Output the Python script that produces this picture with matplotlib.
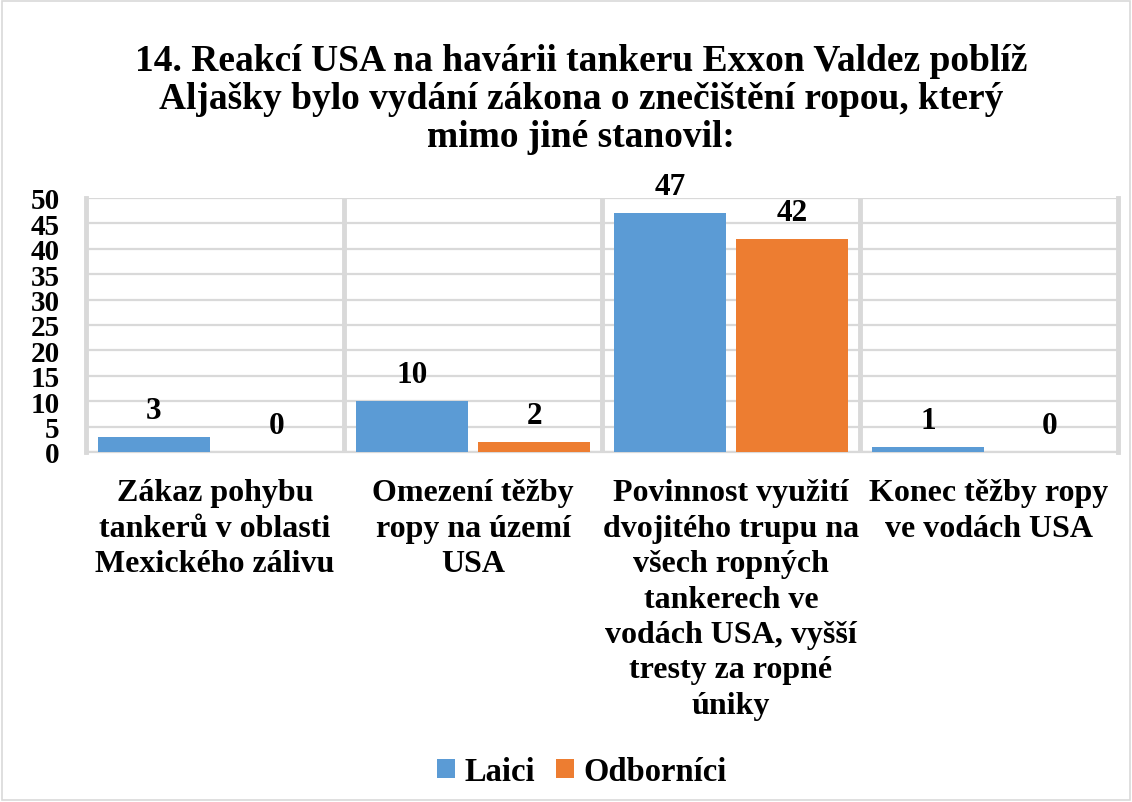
import numpy as np
import matplotlib.pyplot as plt
from matplotlib.patches import Rectangle

plt.rcParams['font.family'] = ['Liberation Serif', 'DejaVu Serif']
plt.rcParams['font.weight'] = 'bold'

categories = [
    "Zákaz pohybu\ntankerů v oblasti\nMexického zálivu",
    "Omezení těžby\nropy na území\nUSA",
    "Povinnost využití\ndvojitého trupu na\nvšech ropných\ntankerech ve\nvodách USA, vyšší\ntresty za ropné\núniky",
    "Konec těžby ropy\nve vodách USA",
]
laici = [3, 10, 47, 1]
odbornici = [0, 2, 42, 0]
series_names = ["Laici", "Odborníci"]
colors = ["#5b9bd5", "#ed7d31"]
title = ("14. Reakcí USA na havárii tankeru Exxon Valdez poblíž\n"
         "Aljašky bylo vydání zákona o znečištění ropou, který\n"
         "mimo jiné stanovil:")

fig = plt.figure(figsize=(11.32, 8.03), dpi=100)
ax = fig.add_axes([0.076, 0.4359, 0.9116, 0.3163])

x = np.arange(len(categories))
w = 0.435
off = 0.237
b1 = ax.bar(x - off, laici, w, color=colors[0], label=series_names[0], zorder=3)
b2 = ax.bar(x + off, odbornici, w, color=colors[1], label=series_names[1], zorder=3)

for bars in (b1, b2):
    for r in bars:
        h = r.get_height()
        ax.annotate(f"{h:g}", (r.get_x() + r.get_width() / 2, h),
                    xytext=(0, 8.5), textcoords="offset points",
                    ha="center", va="bottom", fontsize=22.5, fontweight="bold")

ax.set_xlim(-0.5, len(categories) - 0.5)
ax.set_ylim(0, 50)
ax.set_yticks(range(0, 51, 5))
ax.yaxis.grid(True, color="#d9d9d9", lw=1.6, zorder=0)
for sep in np.arange(0.5, len(categories) - 0.5):
    ax.axvline(sep, color="#d9d9d9", lw=3.5, zorder=1)
for side in ("left", "right"):
    ax.spines[side].set_color("#d9d9d9")
    ax.spines[side].set_linewidth(3.5)
ax.spines["top"].set_visible(False)
ax.spines["bottom"].set_color("#d9d9d9")
ax.spines["bottom"].set_linewidth(1.6)

ax.set_xticks(x)
ax.set_xticklabels(categories, fontsize=23, fontweight="bold", linespacing=1.29)
ax.tick_params(axis="x", length=0, pad=19)
ax.tick_params(axis="y", length=0, pad=19, labelsize=21)
for t in ax.get_yticklabels():
    t.set_fontweight("bold")

fig.text(0.513, 0.945, title, ha="center", va="top", fontsize=27,
         fontweight="bold", linespacing=1.1)

fig.legend(loc="center", bbox_to_anchor=(0.514, 0.038), ncol=2, frameon=False,
           handlelength=0.55, handleheight=0.55, handletextpad=0.28,
           columnspacing=0.65, prop={"weight": "bold", "size": 23.5})

fig.patches.append(Rectangle((0.002, 0.002), 0.996, 0.996, transform=fig.transFigure,
                             fill=False, edgecolor="#d9d9d9", lw=1.2))

fig.savefig("out.png", dpi=100)
